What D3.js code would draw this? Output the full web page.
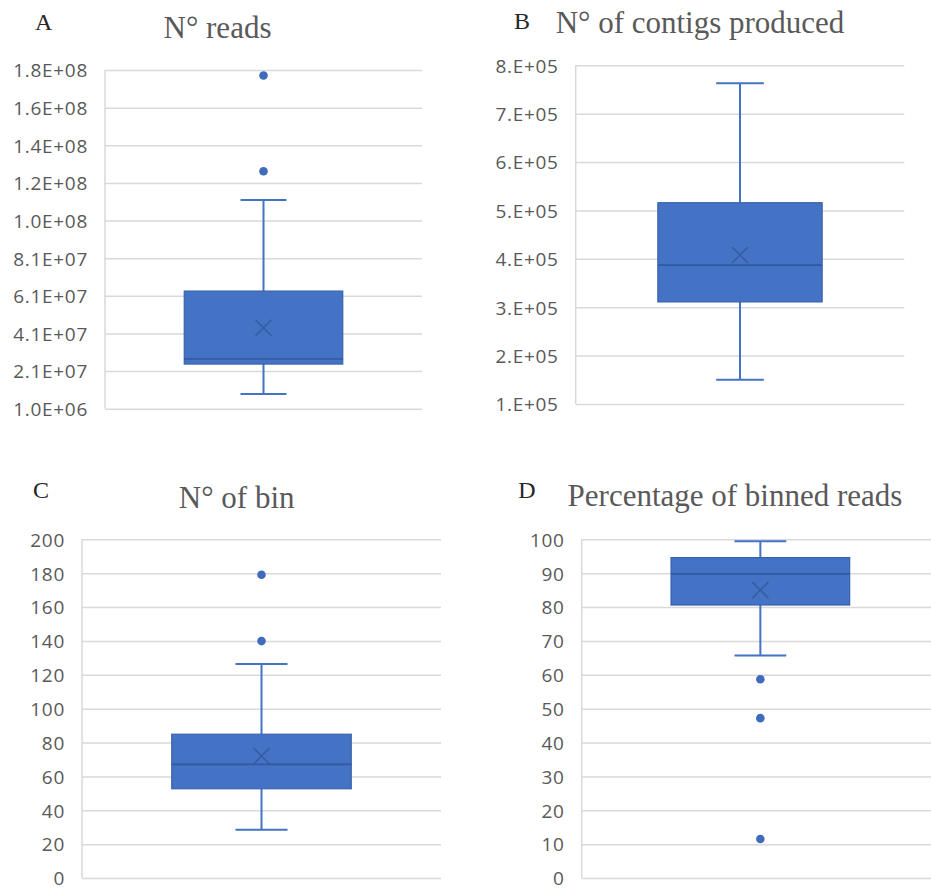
<!DOCTYPE html>
<html>
<head>
<meta charset="utf-8">
<script src="https://cdn.jsdelivr.net/npm/d3@7"></script>
<style>
  body { margin: 0; background: #fff; }
</style>
</head>
<body>
<div id="chart"></div>
<script>
// panel letters and titles
const panelLetters = ['A', 'B', 'C', 'D'];
const panelTitles = ['N° reads', 'N° of contigs produced', 'N° of bin', 'Percentage of binned reads'];
const category = ['samples'];

// box stats: [lower whisker, Q1, median, Q3, upper whisker]
const readsBox = [8.8e6, 2.46e7, 2.73e7, 6.32e7, 1.113e8];
const readsMean = 4.38e7;
const readsOutliers = [1.772e8, 1.266e8];

const contigsBox = [1.5e5, 3.11e5, 3.87e5, 5.16e5, 7.63e5];
const contigsMean = 4.08e5;
const contigsOutliers = [];

const binsBox = [28.5, 52.7, 67.1, 84.9, 126.4];
const binsMean = 72.0;
const binsOutliers = [179.1, 139.9];

const binnedBox = [65.7, 80.6, 89.8, 94.6, 99.4];
const binnedMean = 85.0;
const binnedOutliers = [58.7, 47.2, 11.5];

// axis ticks
const readsTicks = [1.0e6, 2.09e7, 4.08e7, 6.07e7, 8.06e7, 1.005e8, 1.204e8, 1.403e8, 1.602e8, 1.801e8];
const readsTickLabels = ['1.0E+06', '2.1E+07', '4.1E+07', '6.1E+07', '8.1E+07', '1.0E+08', '1.2E+08', '1.4E+08', '1.6E+08', '1.8E+08'];
const contigsTicks = [1e5, 2e5, 3e5, 4e5, 5e5, 6e5, 7e5, 8e5];
const contigsTickLabels = ['1.E+05', '2.E+05', '3.E+05', '4.E+05', '5.E+05', '6.E+05', '7.E+05', '8.E+05'];
const binsTicks = [0, 20, 40, 60, 80, 100, 120, 140, 160, 180, 200];
const binnedTicks = [0, 10, 20, 30, 40, 50, 60, 70, 80, 90, 100];

const panels = [
  { box: readsBox, mean: readsMean, outliers: readsOutliers, ticks: readsTicks, labels: readsTickLabels },
  { box: contigsBox, mean: contigsMean, outliers: contigsOutliers, ticks: contigsTicks, labels: contigsTickLabels },
  { box: binsBox, mean: binsMean, outliers: binsOutliers, ticks: binsTicks, labels: binsTicks.map(String) },
  { box: binnedBox, mean: binnedMean, outliers: binnedOutliers, ticks: binnedTicks, labels: binnedTicks.map(String) }
];

// plot rectangles and title positions
const layout = [
  { x0: 105, x1: 422, y0: 70, y1: 408.7, lx: 35, ly: 29.5, tx: 217.5, ty: 37.5 },
  { x0: 575.7, x1: 904.3, y0: 65.3, y1: 404, lx: 514, ly: 28.5, tx: 700, ty: 32.7 },
  { x0: 82, x1: 441, y0: 539.3, y1: 878, lx: 33, ly: 498, tx: 236.7, ty: 507.7 },
  { x0: 581.7, x1: 939, y0: 539.3, y1: 878, lx: 518.3, ly: 498, tx: 735, ty: 506 }
];

const width = 931, height = 890;
const fill = '#4472C4', dark = '#2F5597', grid = '#D9D9D9';

const svg = d3.select('#chart').append('svg')
  .attr('width', width)
  .attr('height', height);

panels.forEach((p, i) => {
  const L = layout[i];
  const g = svg.append('g');

  const y = d3.scaleLinear()
    .domain([p.ticks[0], p.ticks[p.ticks.length - 1]])
    .range([L.y1, L.y0]);
  const x = d3.scaleBand()
    .domain(category)
    .range([L.x0, L.x1])
    .paddingInner(0)
    .paddingOuter(0.5);

  // gridlines + tick labels
  const axis = g.append('g')
    .attr('transform', `translate(${L.x0},0)`)
    .call(d3.axisLeft(y)
      .tickValues(p.ticks)
      .tickSize(-(L.x1 - L.x0))
      .tickPadding(17)
      .tickFormat((d, k) => p.labels[k]));
  axis.select('.domain').remove();
  axis.selectAll('.tick line').attr('stroke', grid).attr('stroke-width', 1.5);
  axis.selectAll('.tick text')
    .attr('fill', '#595959')
    .attr('font-family', '"Open Sans", sans-serif')
    .attr('font-size', 19)
    .attr('letter-spacing', 0.7)
    .attr('dy', '0.36em');

  // left axis line
  g.append('line')
    .attr('x1', L.x0).attr('x2', L.x0)
    .attr('y1', L.y0).attr('y2', L.y1)
    .attr('stroke', grid).attr('stroke-width', 1.5);

  const cx = x(category[0]) + x.bandwidth() / 2;
  const bw = x.bandwidth();
  const cap = bw * 0.29;
  const [lo, q1, med, q3, hi] = p.box;

  // whiskers
  g.append('line').attr('x1', cx).attr('x2', cx).attr('y1', y(hi)).attr('y2', y(q3))
    .attr('stroke', fill).attr('stroke-width', 2);
  g.append('line').attr('x1', cx).attr('x2', cx).attr('y1', y(q1)).attr('y2', y(lo))
    .attr('stroke', fill).attr('stroke-width', 2);
  [lo, hi].forEach(v => {
    g.append('line')
      .attr('x1', cx - cap / 2).attr('x2', cx + cap / 2)
      .attr('y1', y(v)).attr('y2', y(v))
      .attr('stroke', fill).attr('stroke-width', 2);
  });

  // box
  g.append('rect')
    .attr('x', x(category[0]))
    .attr('y', y(q3))
    .attr('width', bw)
    .attr('height', y(q1) - y(q3))
    .attr('fill', fill)
    .attr('stroke', '#3A62AD')
    .attr('stroke-width', 1.2);

  // median
  g.append('line')
    .attr('x1', x(category[0])).attr('x2', x(category[0]) + bw)
    .attr('y1', y(med)).attr('y2', y(med))
    .attr('stroke', dark).attr('stroke-width', 1.6).attr('stroke-opacity', 0.85);

  // mean marker
  const m = 8;
  const my = y(p.mean);
  g.append('path')
    .attr('d', `M${cx - m},${my - m}L${cx + m},${my + m}M${cx - m},${my + m}L${cx + m},${my - m}`)
    .attr('stroke', dark).attr('stroke-width', 1.5).attr('stroke-opacity', 0.75)
    .attr('fill', 'none');

  // outliers
  g.selectAll('circle.out')
    .data(p.outliers)
    .join('circle')
    .attr('class', 'out')
    .attr('cx', cx)
    .attr('cy', d => y(d))
    .attr('r', 4.3)
    .attr('fill', '#3F6BBD');

  // panel letter and title
  g.append('text')
    .attr('x', L.lx).attr('y', L.ly)
    .attr('font-family', '"Liberation Serif", "Times New Roman", serif')
    .attr('font-size', 24)
    .attr('fill', '#262626')
    .text(panelLetters[i]);
  g.append('text')
    .attr('x', L.tx).attr('y', L.ty)
    .attr('text-anchor', 'middle')
    .attr('font-family', '"Liberation Serif", "Times New Roman", serif')
    .attr('font-size', 31)
    .attr('fill', '#595959')
    .text(panelTitles[i]);
});
</script>
</body>
</html>
